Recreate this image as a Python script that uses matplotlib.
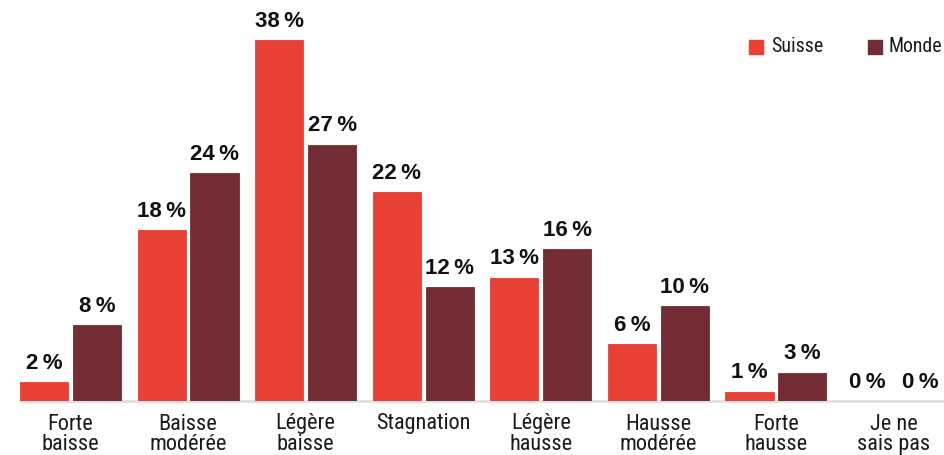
import matplotlib
matplotlib.use("Agg")
import matplotlib.pyplot as plt
from matplotlib.patches import Rectangle
import numpy as np

categories = ["Forte\nbaisse", "Baisse\nmodérée", "Légère\nbaisse", "Stagnation",
              "Légère\nhausse", "Hausse\nmodérée", "Forte\nhausse", "Je ne\nsais pas"]
suisse = [2, 18, 38, 22, 13, 6, 1, 0]
monde = [8, 24, 27, 12, 16, 10, 3, 0]
series_names = ["Suisse", "Monde"]

RED = "#E94035"
WINE = "#742C34"

narrow = ["Roboto Condensed", "DejaVu Sans"]
bold_font = ["Liberation Sans", "DejaVu Sans"]

fig = plt.figure(figsize=(9.44, 4.55), dpi=100)
W, H = 944, 455
ax = fig.add_axes([20 / W, 54 / H, 924 / W, 380 / H])

x = np.arange(len(categories))
off, bw = 0.225, 0.41
b1 = ax.bar(x - off, suisse, bw, color=RED, edgecolor=RED, linewidth=0.6, zorder=3)
b2 = ax.bar(x + off, monde, bw, color=WINE, edgecolor=WINE, linewidth=0.6, zorder=3)

for bars, vals in ((b1, suisse), (b2, monde)):
    for rect, v in zip(bars, vals):
        ax.annotate(f"{v}\u2009%", (rect.get_x() + rect.get_width() / 2, v),
                    xytext=(0, 6), textcoords="offset points",
                    ha="center", va="bottom", fontsize=16, fontweight="bold",
                    family=bold_font, color="#111111",
                    annotation_clip=False)

ax.set_xlim(-0.43, 7.43)
ax.set_ylim(0, 40)
ax.set_yticks([])
ax.set_xticks(x)
ax.set_xticklabels(categories, fontsize=16, family=narrow,
                   color="#1a1a1a", linespacing=0.95)
ax.tick_params(axis="x", length=0, pad=9)
for s in ("left", "right", "top"):
    ax.spines[s].set_visible(False)
ax.spines["bottom"].set_color("#e0e0e0")
ax.spines["bottom"].set_linewidth(2)
ax.spines["bottom"].set_zorder(1)

# legend drawn in figure pixels: swatch, then label
legend_items = ((series_names[0], RED, 749, 771, "left"),
                (series_names[1], WINE, 868, 942, "right"))
for name, col, sx, tx, align in legend_items:
    fig.patches.append(Rectangle((sx / W, (H - 54) / H), 14 / W, 14 / H,
                                 transform=fig.transFigure, color=col))
    fig.text(tx / W, (H - 47) / H, name, fontsize=14.3, family=narrow,
             va="center", ha=align, color="#1a1a1a")

fig.savefig("out.png", dpi=100)
